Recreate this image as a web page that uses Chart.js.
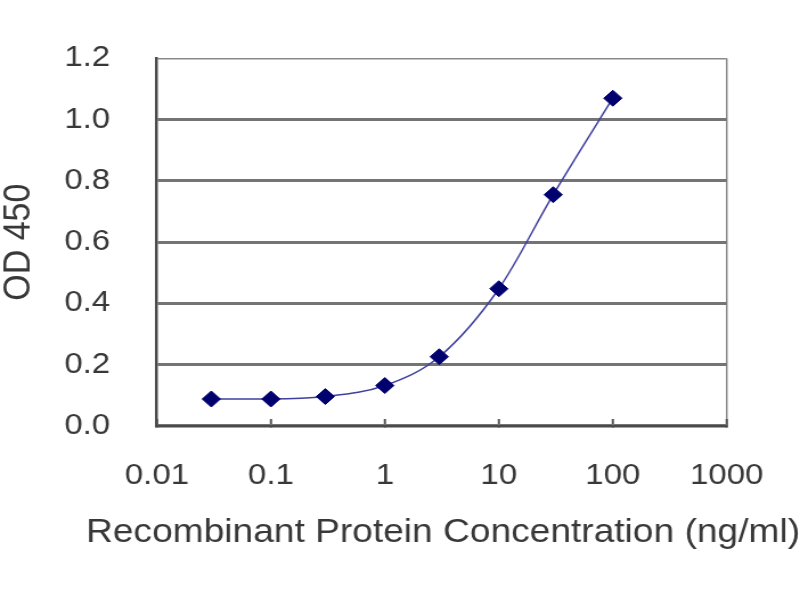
<!DOCTYPE html>
<html>
<head>
<meta charset="utf-8">
<script src="https://cdn.jsdelivr.net/npm/chart.js@4.4.1/dist/chart.umd.min.js"></script>
<style>
  html, body { margin: 0; padding: 0; background: #ffffff; overflow: hidden; }
  #wrap { width: 702px; height: 600px; transform: scaleX(1.1396); transform-origin: 0 0; }
</style>
</head>
<body>
<div id="wrap"><canvas id="c"></canvas></div>
<script>
const concentrations = [0.03, 0.1, 0.3, 1, 3, 10, 30, 100];
const odValues = [0.088, 0.088, 0.096, 0.132, 0.226, 0.448, 0.755, 1.070];
const xTickValues = [0.01, 0.1, 1, 10, 100, 1000];
const xTickLabels = ['0.01', '0.1', '1', '10', '100', '1000'];
const yTickValues = [0, 0.2, 0.4, 0.6, 0.8, 1.0, 1.2];
const xTitle = 'Recombinant Protein Concentration (ng/ml)';
const yTitle = 'OD 450';

const points = concentrations.map((x, i) => ({ x: x, y: odValues[i] }));
const FONT = "'Liberation Sans', Arial, sans-serif";
const TEXT = '#383838';

new Chart(document.getElementById('c'), {
  type: 'line',
  data: {
    datasets: [{
      data: points,
      borderColor: '#40409e',
      borderWidth: 1.5,
      cubicInterpolationMode: 'monotone',
      pointStyle: 'rectRot',
      pointRadius: 8,
      pointBackgroundColor: '#00006e',
      pointBorderColor: '#00006e',
      pointBorderWidth: 1,
      fill: false
    }]
  },
  options: {
    responsive: true,
    maintainAspectRatio: false,
    animation: false,
    layout: { padding: { left: 0, right: 0, top: 55, bottom: 0 } },
    plugins: {
      legend: { display: false },
      tooltip: { enabled: false },
      title: {
        display: true,
        position: 'bottom',
        align: 'end',
        text: xTitle,
        color: TEXT,
        font: { family: FONT, size: 32.6, weight: 'normal', lineHeight: 1.2 },
        padding: { top: 0, bottom: 47.4 }
      }
    },
    scales: {
      x: {
        type: 'logarithmic',
        min: 0.01,
        max: 1000,
        afterBuildTicks: s => { s.ticks = xTickValues.map(v => ({ value: v })); },
        afterFit: s => { s.height = 87.5; },
        ticks: {
          autoSkip: false,
          maxRotation: 0,
          padding: 32,
          color: TEXT,
          font: { family: FONT, size: 29, lineHeight: 1.724 },
          callback: (v, i) => xTickLabels[i]
        },
        grid: {
          drawOnChartArea: true,
          color: ctx => (ctx.tick && ctx.tick.value === 1000) ? '#8a8a8a' : 'rgba(0,0,0,0)',
          lineWidth: 1.5,
          drawTicks: true,
          tickLength: -7,
          tickColor: '#555555',
          tickWidth: 2
        },
        border: { display: true, color: '#4a4a4a', width: 2.5 }
      },
      y: {
        min: 0,
        max: 1.2,
        afterBuildTicks: s => { s.ticks = yTickValues.map(v => ({ value: v })); },
        afterFit: s => { s.width = 137.7; },
        ticks: {
          padding: 41,
          color: TEXT,
          font: { family: FONT, size: 29 },
          callback: v => Number(v).toFixed(1)
        },
        grid: {
          drawTicks: false,
          color: ctx => (ctx.tick && ctx.tick.value === 1.2) ? '#8a8a8a' : '#747474',
          lineWidth: ctx => (ctx.tick && ctx.tick.value === 1.2) ? 1.5 : 3
        },
        border: { display: true, color: '#4a4a4a', width: 2.5 },
        title: {
          display: true,
          text: yTitle,
          color: TEXT,
          font: { family: FONT, size: 34, lineHeight: 1.0 },
          padding: { top: 0, bottom: 0 }
        }
      }
    }
  }
});
</script>
</body>
</html>
